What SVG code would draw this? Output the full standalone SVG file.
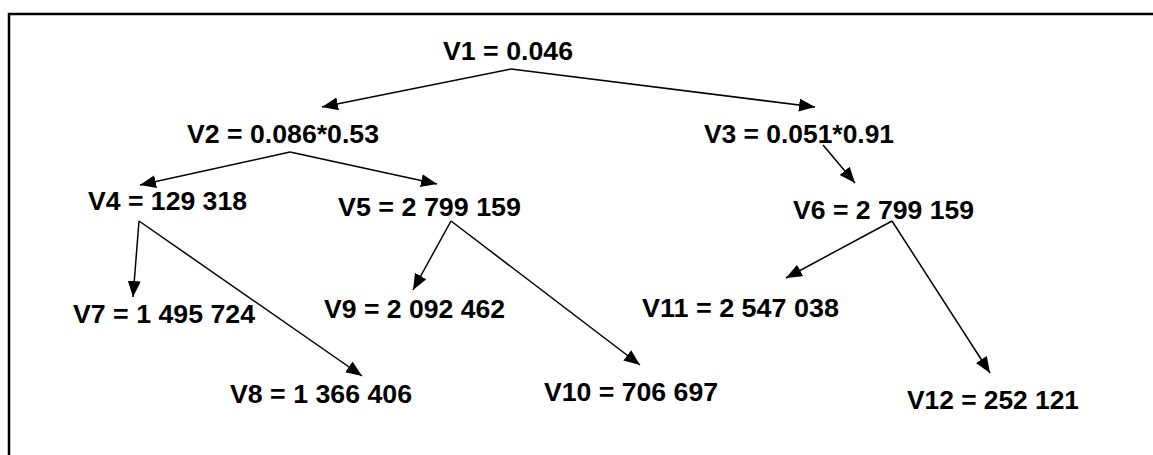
<svg xmlns="http://www.w3.org/2000/svg" width="1153" height="455" viewBox="0 0 1153 455">
  <style>
    .frame { fill: none; stroke: #000; stroke-width: 2.5; }
    .lbl { font-family: "Liberation Sans", Arial, sans-serif; font-weight: bold; font-size: 25px; fill: #000; }
    .edge { stroke: #000; stroke-width: 1.5; fill: none; marker-end: url(#head); }
  </style>
  <defs>
    <marker id="head" markerUnits="userSpaceOnUse" markerWidth="17" markerHeight="14" refX="16" refY="6.5" orient="auto">
      <path d="M0,0 L16,6.5 L0,13 z" fill="#000"/>
    </marker>
  </defs>

  <rect class="frame" x="9" y="14" width="1160" height="460"/>

  <g id="connectors">
    <line class="edge" x1="511" y1="69" x2="322" y2="107"/>
    <line class="edge" x1="511" y1="69" x2="815" y2="107"/>
    <line class="edge" x1="290" y1="152" x2="140" y2="185"/>
    <line class="edge" x1="290" y1="152" x2="437" y2="184"/>
    <line class="edge" x1="823" y1="145" x2="855" y2="183"/>
    <line class="edge" x1="139" y1="221" x2="133" y2="297"/>
    <line class="edge" x1="139" y1="221" x2="362" y2="376"/>
    <line class="edge" x1="451" y1="221" x2="413" y2="290"/>
    <line class="edge" x1="451" y1="221" x2="640" y2="365"/>
    <line class="edge" x1="892" y1="221" x2="786" y2="278"/>
    <line class="edge" x1="892" y1="221" x2="990" y2="373"/>
  </g>

  <g id="v1"><text class="lbl" x="443" y="60" textLength="130" lengthAdjust="spacingAndGlyphs">V1 = 0.046</text></g>
  <g id="v2"><text class="lbl" x="187" y="143" textLength="192" lengthAdjust="spacingAndGlyphs">V2 = 0.086*0.53</text></g>
  <g id="v3"><text class="lbl" x="704" y="143" textLength="190" lengthAdjust="spacingAndGlyphs">V3 = 0.051*0.91</text></g>
  <g id="v4"><text class="lbl" x="88" y="210" textLength="159" lengthAdjust="spacingAndGlyphs">V4 = 129 318</text></g>
  <g id="v5"><text class="lbl" x="338" y="216" textLength="183" lengthAdjust="spacingAndGlyphs">V5 = 2 799 159</text></g>
  <g id="v6"><text class="lbl" x="793" y="219" textLength="181" lengthAdjust="spacingAndGlyphs">V6 = 2 799 159</text></g>
  <g id="v7"><text class="lbl" x="73" y="323" textLength="182" lengthAdjust="spacingAndGlyphs">V7 = 1 495 724</text></g>
  <g id="v8"><text class="lbl" x="230" y="403" textLength="182" lengthAdjust="spacingAndGlyphs">V8 = 1 366 406</text></g>
  <g id="v9"><text class="lbl" x="324" y="318" textLength="181" lengthAdjust="spacingAndGlyphs">V9 = 2 092 462</text></g>
  <g id="v10"><text class="lbl" x="544" y="401" textLength="174" lengthAdjust="spacingAndGlyphs">V10 = 706 697</text></g>
  <g id="v11"><text class="lbl" x="642" y="317" textLength="197" lengthAdjust="spacingAndGlyphs">V11 = 2 547 038</text></g>
  <g id="v12"><text class="lbl" x="907" y="409" textLength="172" lengthAdjust="spacingAndGlyphs">V12 = 252 121</text></g>
</svg>
